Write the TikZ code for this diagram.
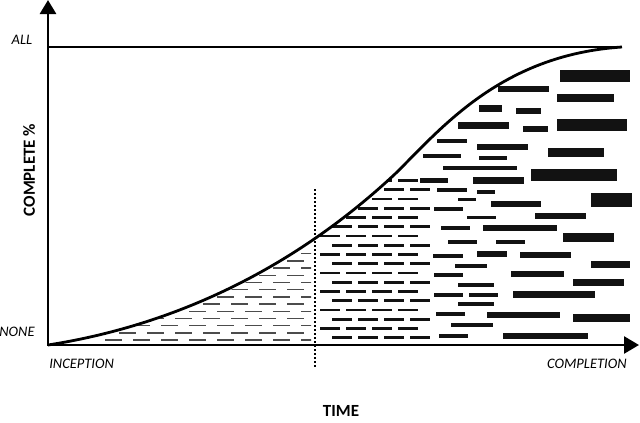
\documentclass[tikz,border=0pt]{standalone}
\usepackage{fontspec}
\setmainfont{Carlito}
\usetikzlibrary{arrows.meta}
\begin{document}
\begin{tikzpicture}[x=1pt, y=-1pt, line width=2.6pt,
  axislabel/.style={font=\fontsize{14.5}{16}\selectfont\itshape, inner sep=0pt},
  axistitle/.style={font=\fontsize{17}{19}\selectfont\bfseries, inner sep=0pt},
  thindash/.style={line width=1.4pt, draw=black!70},
  middash/.style={line width=2.8pt, draw=black!93},
  bar/.style={fill=black!93}]
  \useasboundingbox (0,0) rectangle (640,423);
  \coordinate (O) at (48,345);
  \coordinate (ytip) at (48,0);
  \coordinate (xtip) at (639,345);
  \coordinate (allleft) at (49,47);
  \coordinate (allright) at (622,47);
  \coordinate (bend) at (395,174);
  \coordinate (cut) at (315,189);
  \coordinate (cutend) at (315,368);
  % thin dashes before the cut
  \begin{scope}
    \clip (96,0) rectangle (311,344);
    \clip[xshift=6pt] (O) .. controls (170,326) and (290,272) .. (bend) -- (395,345) -- cycle;
    \foreach \j in {0,...,13} {
      \pgfmathsetmacro\yrow{340-7.2*\j}
      \pgfmathsetmacro\xrow{49+14*mod(\j,2)}
      \foreach \i in {0,...,9}
        \draw[thindash] (\xrow+28*\i,\yrow) -- ++(17,0);
    }
  \end{scope}
  % short black dashes after the cut
  \begin{scope}
    \clip (318,0) rectangle (445,344);
    \clip (O) .. controls (170,326) and (290,272) .. (bend) .. controls (440,130) and (500,55) .. (allright) -- (622,345) -- cycle;
    \foreach \k in {0,...,17} {
      \pgfmathsetmacro\yrow{337.7-9.25*\k}
      \pgfmathsetmacro\xrow{332-12*mod(\k,2)}
      \foreach \i in {0,...,3}
        \draw[middash] (\xrow+26*\i,\yrow) -- ++(20,0);
    }
  \end{scope}
  % long bars towards completion
  \foreach \xa/\ya/\xb/\yb in {560/70/630/82, 498/86/549/92, 557/94/614/102, 479/105/502/112,
      516/108/541/114, 557/119/627/131, 458/122/509/129, 523/126/548/132, 437/139/467/143,
      477/144/528/150, 548/148/604/157, 423/154/461/158, 479/156/507/160, 443/166/517/170,
      420/178/448/183, 473/177/524/184, 531/169/617/181, 437/188/467/192, 477/190/495/194,
      591/193/632/207, 458/198/476/201, 491/201/541/207, 434/207/463/211, 467/216/496/219,
      535/213/586/219, 441/226/470/230, 483/225/557/231, 563/233/614/242, 448/240/477/244,
      496/240/525/244, 433/254/463/258, 477/251/507/257, 520/252/571/258, 455/264/487/268,
      591/261/630/268, 434/273/463/277, 511/271/564/277, 458/283/494/287, 573/279/624/286,
      434/293/463/297, 469/293/498/297, 513/291/595/298, 458/302/494/306, 436/312/465/316,
      487/312/560/318, 573/314/630/322, 451/323/493/327, 439/334/468/338, 503/333/588/339}
    \fill[bar] (\xa,\ya) rectangle (\xb,\yb);
  \draw[line width=2.8pt] (O) .. controls (170,326) and (290,272) .. (bend) .. controls (440,130) and (500,55) .. (allright);
  \draw (allleft) -- (allright);
  \draw[line width=1.6pt, dash pattern=on 1.6pt off 2.4pt] (cut) -- (cutend);
  \draw[{Triangle[length=14pt,width=16pt]}-{Triangle[length=15pt,width=17pt]}] (ytip) -- (O) -- (xtip);
  \node[axislabel] (all) at (22,40) {ALL};
  \node[axislabel] (none) at (17,332) {NONE};
  \node[axislabel, anchor=west] (inception) at (48,364) {INCEPTION};
  \node[axislabel, anchor=east] (completion) at (628,364) {COMPLETION};
  \node[axistitle] (time) at (341,411) {TIME};
  \node[axistitle, rotate=90] (complete) at (29,170) {COMPLETE \%};
\end{tikzpicture}
\end{document}
